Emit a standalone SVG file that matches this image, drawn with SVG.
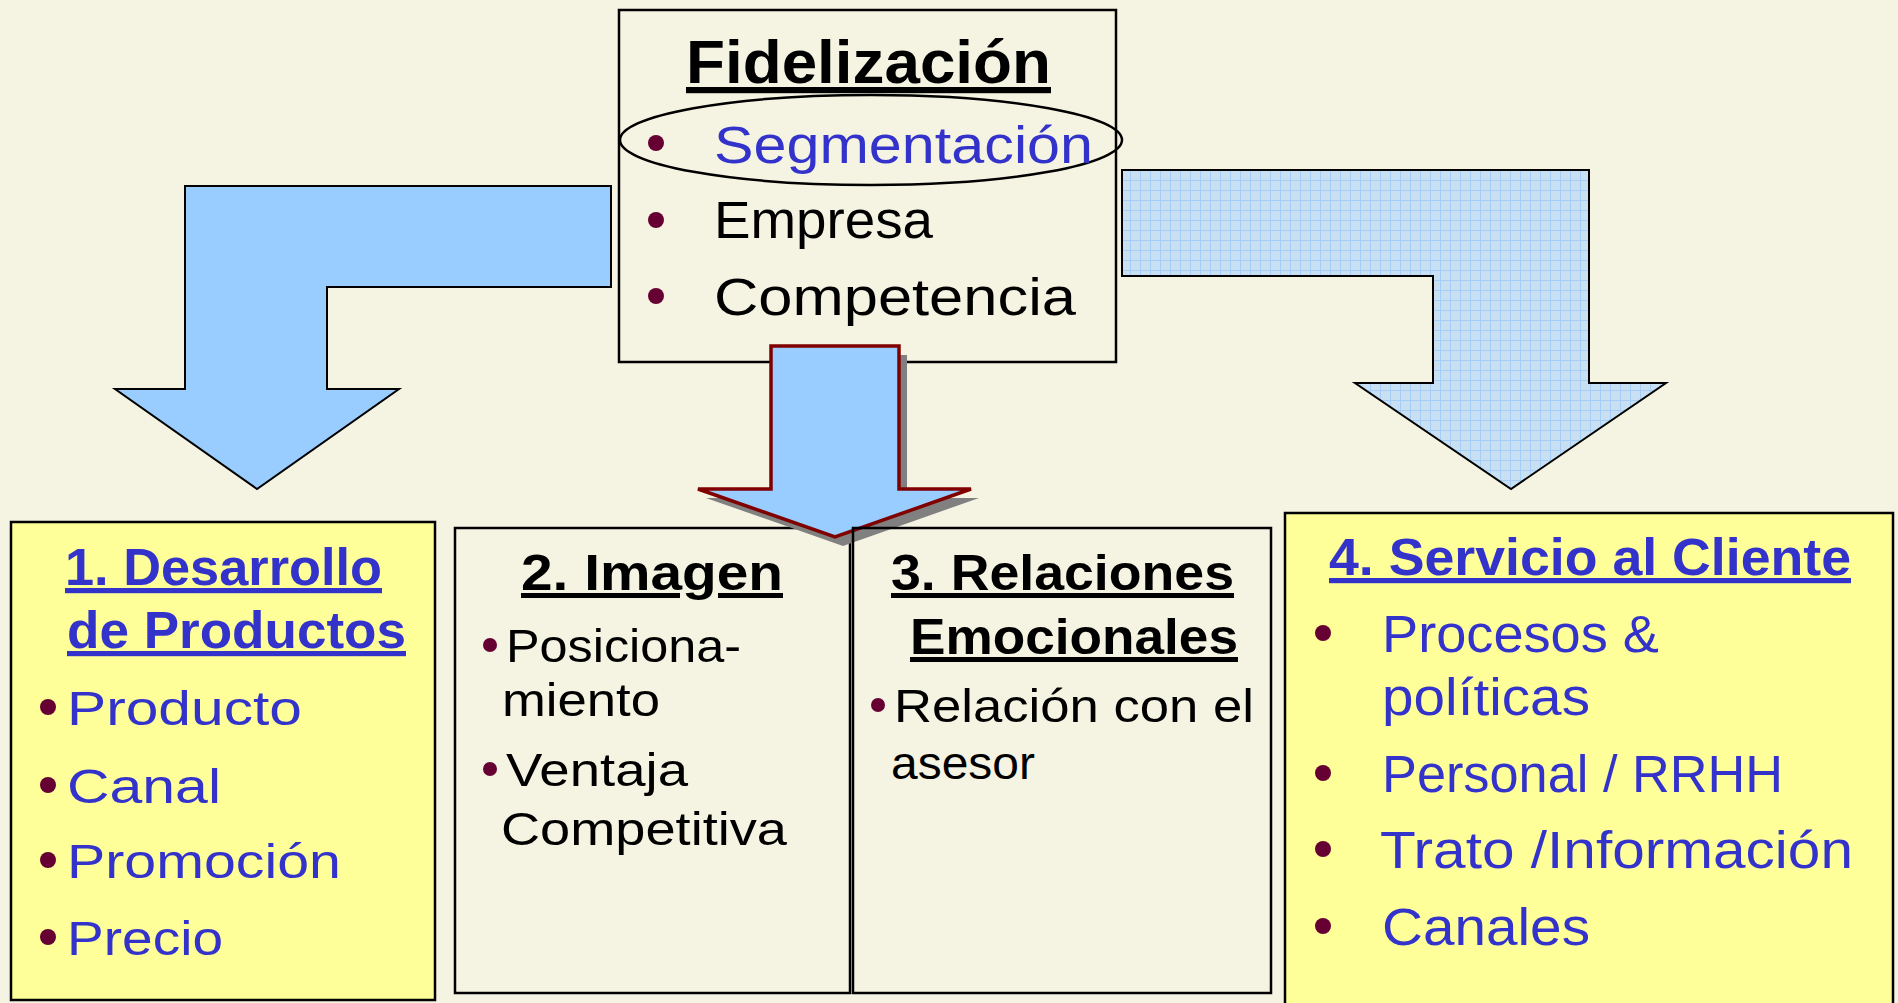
<svg xmlns="http://www.w3.org/2000/svg" width="1898" height="1003" viewBox="0 0 1898 1003">
<style>
  .bg { fill: #F5F3E1; }
  .box { stroke: #000; stroke-width: 2.5; }
  .yellow { fill: #FFFF99; }
  .plain { fill: none; }
  .t { font-family: "Liberation Sans", "DejaVu Sans", sans-serif; }
  .b { font-weight: bold; text-decoration: underline; }
  .blue { fill: #3333CC; }
  .blk { fill: #000; }
  .dot { fill: #660033; }
</style>
<defs>
  <pattern id="grid" width="10" height="10" patternUnits="userSpaceOnUse">
    <rect width="10" height="10" fill="#C8E0F2"/>
    <path d="M0 0.5H10M0.5 0V10" stroke="#A4CEF8" stroke-width="1"/>
  </pattern>
</defs>
<rect class="bg" x="0" y="0" width="1898" height="1003"/>

<g id="connectors">
  <polygon id="arrow-left" points="185,186 611,186 611,287 327,287 327,389 399,389 257,489 115,389 185,389" fill="#99CCFF" stroke="#000" stroke-width="2"/>
  <polygon id="arrow-right" points="1122,170 1589,170 1589,383 1666,383 1511,489 1355,383 1433,383 1433,276 1122,276" fill="url(#grid)" stroke="#000" stroke-width="2"/>
</g>

<g id="node-fidelizacion">
  <rect class="box bg" x="619" y="10" width="497" height="352"/>
  <text class="t b blk" x="686" y="83" font-size="62" textLength="365" lengthAdjust="spacingAndGlyphs">Fidelización</text>
  <ellipse cx="871" cy="140" rx="251" ry="45" fill="none" stroke="#000" stroke-width="2.5"/>
  <circle class="dot" cx="656" cy="143" r="8"/>
  <text class="t blue" x="714" y="163" font-size="51" textLength="379" lengthAdjust="spacingAndGlyphs">Segmentación</text>
  <circle class="dot" cx="656" cy="220" r="8"/>
  <text class="t blk" x="714" y="238" font-size="51" textLength="219" lengthAdjust="spacingAndGlyphs">Empresa</text>
  <circle class="dot" cx="656" cy="296" r="8"/>
  <text class="t blk" x="714" y="315" font-size="51" textLength="362" lengthAdjust="spacingAndGlyphs">Competencia</text>
</g>

<g id="node-imagen">
  <rect class="box bg" x="455" y="528" width="395" height="465"/>
  <text class="t b blk" x="521" y="590" font-size="50" textLength="262" lengthAdjust="spacingAndGlyphs">2. Imagen</text>
  <circle class="dot" cx="490" cy="645" r="7"/>
  <text class="t blk" x="506" y="662" font-size="47" textLength="235" lengthAdjust="spacingAndGlyphs">Posiciona-</text>
  <text class="t blk" x="502" y="716" font-size="47" textLength="158" lengthAdjust="spacingAndGlyphs">miento</text>
  <circle class="dot" cx="490" cy="769" r="7"/>
  <text class="t blk" x="506" y="786" font-size="47" textLength="182" lengthAdjust="spacingAndGlyphs">Ventaja</text>
  <text class="t blk" x="501" y="845" font-size="47" textLength="286" lengthAdjust="spacingAndGlyphs">Competitiva</text>
</g>

<g id="arrow-center">
  <polygon points="779,355 907,355 907,498 979,498 843,546 706,498 779,498" fill="#808080"/>
  <polygon points="771,346 899,346 899,489 971,489 835,537 698,489 771,489" fill="#99CCFF" stroke="#800000" stroke-width="3.5"/>
</g>

<g id="node-relaciones">
  <rect class="box plain" x="853" y="528" width="418" height="465"/>
  <text class="t b blk" x="891" y="590" font-size="50" textLength="343" lengthAdjust="spacingAndGlyphs">3. Relaciones</text>
  <text class="t b blk" x="910" y="654" font-size="50" textLength="328" lengthAdjust="spacingAndGlyphs">Emocionales</text>
  <circle class="dot" cx="878" cy="705" r="7"/>
  <text class="t blk" x="894" y="722" font-size="47" textLength="360" lengthAdjust="spacingAndGlyphs">Relación con el</text>
  <text class="t blk" x="891" y="779" font-size="47" textLength="144" lengthAdjust="spacingAndGlyphs">asesor</text>
</g>

<g id="node-desarrollo">
  <rect class="box yellow" x="11" y="522" width="424" height="478"/>
  <text class="t b blue" x="65" y="585" font-size="52" textLength="317" lengthAdjust="spacingAndGlyphs">1. Desarrollo</text>
  <text class="t b blue" x="67" y="648" font-size="52" textLength="339" lengthAdjust="spacingAndGlyphs">de Productos</text>
  <circle class="dot" cx="48" cy="707" r="8"/>
  <text class="t blue" x="67" y="725" font-size="49" textLength="235" lengthAdjust="spacingAndGlyphs">Producto</text>
  <circle class="dot" cx="48" cy="785" r="8"/>
  <text class="t blue" x="67" y="803" font-size="49" textLength="154" lengthAdjust="spacingAndGlyphs">Canal</text>
  <circle class="dot" cx="48" cy="860" r="8"/>
  <text class="t blue" x="67" y="878" font-size="49" textLength="274" lengthAdjust="spacingAndGlyphs">Promoción</text>
  <circle class="dot" cx="48" cy="937" r="8"/>
  <text class="t blue" x="67" y="955" font-size="49" textLength="156" lengthAdjust="spacingAndGlyphs">Precio</text>
</g>

<g id="node-servicio">
  <rect class="box yellow" x="1285" y="513" width="608" height="500"/>
  <text class="t b blue" x="1329" y="575" font-size="52" textLength="522" lengthAdjust="spacingAndGlyphs">4. Servicio al Cliente</text>
  <circle class="dot" cx="1323" cy="633" r="8"/>
  <text class="t blue" x="1382" y="652" font-size="51" textLength="277" lengthAdjust="spacingAndGlyphs">Procesos &amp;</text>
  <text class="t blue" x="1382" y="715" font-size="51" textLength="208" lengthAdjust="spacingAndGlyphs">políticas</text>
  <circle class="dot" cx="1323" cy="773" r="8"/>
  <text class="t blue" x="1382" y="792" font-size="51" textLength="401" lengthAdjust="spacingAndGlyphs">Personal / RRHH</text>
  <circle class="dot" cx="1323" cy="849" r="8"/>
  <text class="t blue" x="1380" y="868" font-size="51" textLength="473" lengthAdjust="spacingAndGlyphs">Trato /Información</text>
  <circle class="dot" cx="1323" cy="926" r="8"/>
  <text class="t blue" x="1382" y="945" font-size="51" textLength="208" lengthAdjust="spacingAndGlyphs">Canales</text>
</g>
</svg>
